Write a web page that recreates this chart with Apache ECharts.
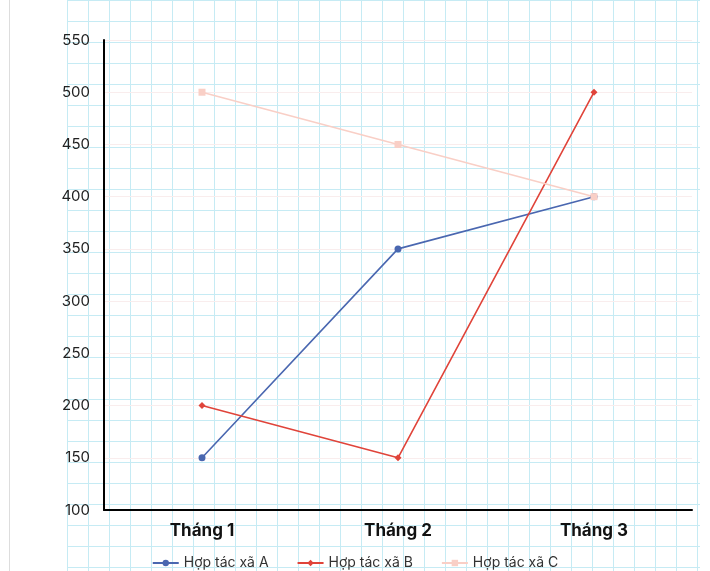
<!DOCTYPE html>
<html><head><meta charset="utf-8">
<script src="https://cdn.jsdelivr.net/npm/echarts@6/dist/echarts.min.js"></script>
<style>
html,body{margin:0;padding:0;background:#fff;}
#paper{position:absolute;left:67px;top:0;width:633px;height:571px;
 background-image:linear-gradient(to right,#c6ebf4 1.5px,transparent 1.5px),linear-gradient(to bottom,#c6ebf4 1.5px,transparent 1.5px);
 background-size:21px 21px;}
#edge{position:absolute;left:9px;top:0;width:1px;height:571px;background:#ddd;}
#main{position:absolute;left:0;top:0;width:710px;height:571px;}
</style></head>
<body>
<div id="edge"></div><div id="paper"></div>
<div id="main"></div>
<script>
const months = ["Tháng 1", "Tháng 2", "Tháng 3"];
const seriesNames = ["Hợp tác xã A", "Hợp tác xã B", "Hợp tác xã C"];
const valuesA = [150, 350, 400];
const valuesB = [200, 150, 500];
const valuesC = [500, 450, 400];
const colors = ["#4a67b0", "#e0443a", "#f9cfc6"];
const symbols = ["circle", "diamond", "rect"];

const chart = echarts.init(document.getElementById("main"));
const allValues = [valuesA, valuesB, valuesC];
chart.setOption({
    textStyle: { fontFamily: "Inter" },
    grid: { left: 104, right: 18, top: 40, bottom: 61 },
    legend: {
        bottom: -4,
        itemWidth: 26, itemHeight: 8, itemGap: 28,
        textStyle: { fontSize: 14, color: "#333" },
        data: seriesNames
    },
    xAxis: {
        type: "category",
        data: months,
        axisLine: { lineStyle: { color: "#000", width: 2 } },
        axisTick: { show: false },
        axisLabel: { fontSize: 17, fontWeight: "bold", color: "#111", margin: 12 }
    },
    yAxis: {
        type: "value",
        min: 100, max: 550, interval: 50,
        axisLine: { show: true, lineStyle: { color: "#000", width: 2 } },
        axisLabel: { fontSize: 15, color: "#222", margin: 14 },
        splitLine: { lineStyle: { color: "#f9eded" } }
    },
    series: allValues.map((vals, i) => ({
        name: seriesNames[i],
        type: "line",
        data: vals,
        symbol: symbols[i],
        symbolSize: 7,
        color: colors[i],
        lineStyle: { width: 1.6 }
    }))
});
</script>
</body></html>
